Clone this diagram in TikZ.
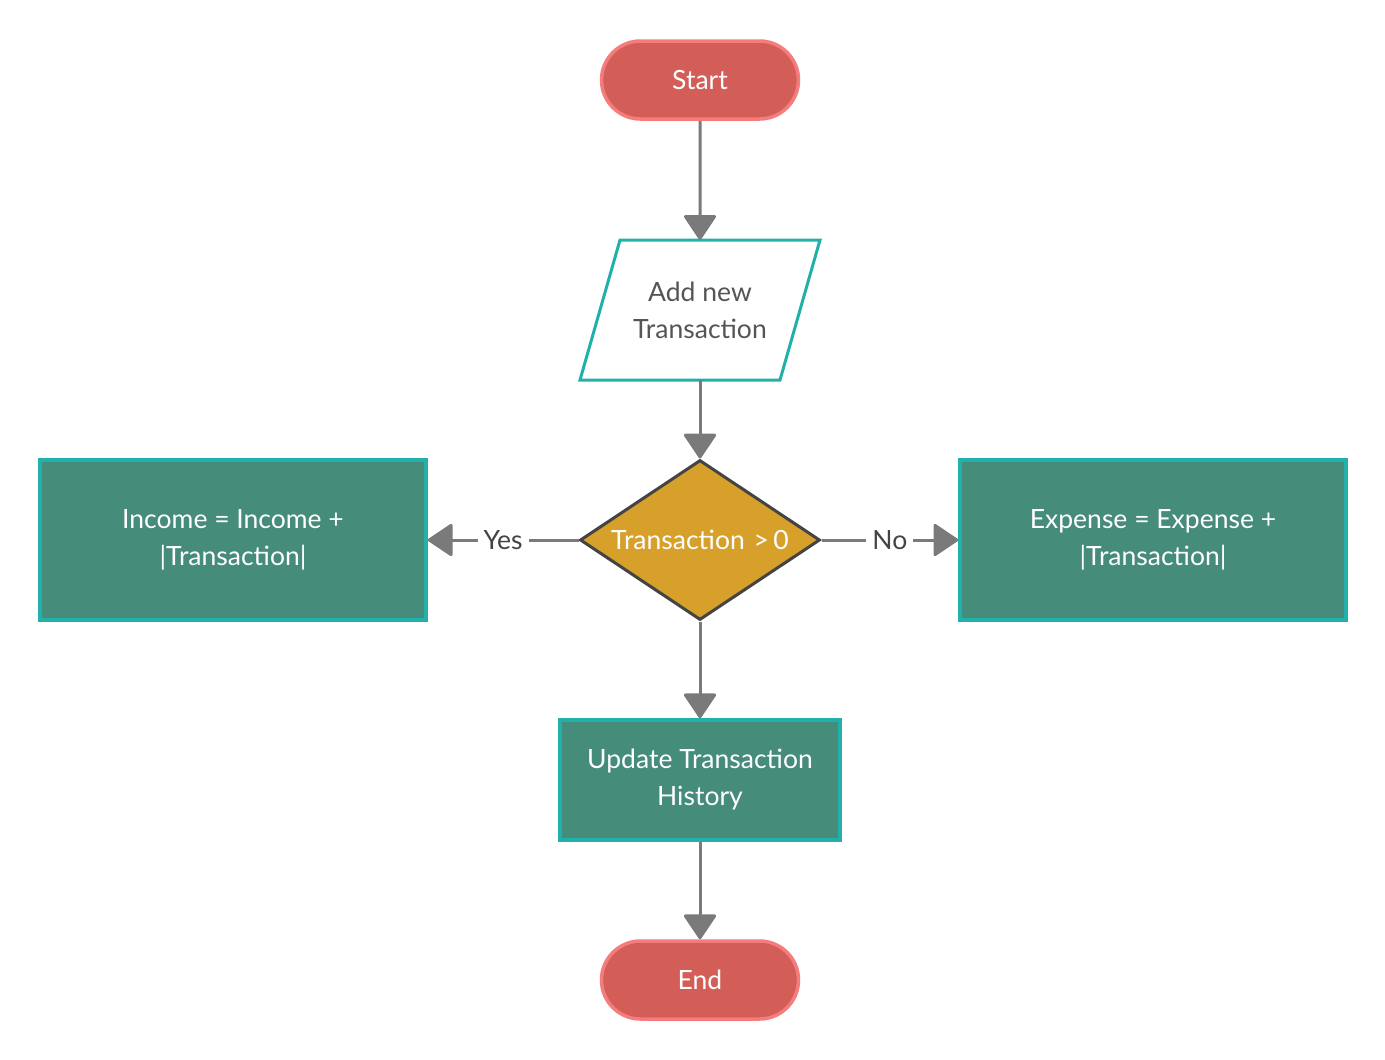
\documentclass[tikz,border=0pt]{standalone}
\usepackage{fontspec}
\setmainfont{Lato}
\usetikzlibrary{arrows.meta,shapes.geometric,shapes.misc}
\definecolor{termfill}{HTML}{D35E58}
\definecolor{termline}{HTML}{F47C7C}
\definecolor{teal}{HTML}{22B1AA}
\definecolor{procfill}{HTML}{458C7A}
\definecolor{decfill}{HTML}{D6A02A}
\definecolor{decline}{HTML}{444444}
\definecolor{conn}{HTML}{7A7A7A}
\definecolor{txtgray}{HTML}{555555}
\begin{document}
\begin{tikzpicture}[x=1pt,y=-1pt,
  every node/.style={font=\fontsize{26.5}{37}\selectfont, align=center, inner sep=0pt},
  terminal/.style={rounded rectangle, fill=termfill, draw=termline, line width=3.5pt,
    minimum width=197pt, minimum height=78pt, text=white},
  process/.style={rectangle, fill=procfill, draw=teal, line width=3.5pt, text=white},
  iobox/.style={fill=white, draw=teal, line width=3pt, line join=miter},
  decision/.style={diamond, fill=decfill, draw=decline, line width=3pt, text=white,
    minimum width=240pt, minimum height=160pt, aspect=1.5},
  link/.style={draw=conn, line width=3pt, -{Triangle[width=34pt,length=26pt,round]}},
  tag/.style={fill=white, text=decline, inner xsep=6pt, inner ysep=4pt}]
  \useasboundingbox (0,0) rectangle (1385,1060);

  % terminals
  \node[terminal] (start) at (700,80) {Start};
  \node[terminal] (end) at (700,980) {End};

  % input step: slanted parallelogram drawn around a plain text node
  \coordinate (ioA) at (620,240);
  \coordinate (ioB) at (820,240);
  \coordinate (ioC) at (780,380);
  \coordinate (ioD) at (580,380);
  \draw[iobox] (ioA) -- (ioB) -- (ioC) -- (ioD) -- cycle;
  \node[minimum width=200pt, minimum height=140pt, text=txtgray] (input) at (700,310) {Add new\\Transaction};

  % decision
  \node[decision] (check) at (700,540) {Transaction\,\,>\,0};

  % processing steps
  \node[process, minimum width=386pt, minimum height=160pt] (income) at (233,540) {Income = Income +\\|Transaction|};
  \node[process, minimum width=386pt, minimum height=160pt] (expense) at (1153,540) {Expense = Expense +\\|Transaction|};
  \node[process, minimum width=280pt, minimum height=120pt] (history) at (700,780) {Update Transaction\\History};

  % connectors
  \draw[link] (start) -- (input);
  \draw[link] (input) -- (check);
  \draw[link] (check.west) -- node[tag] {Yes} (income.east);
  \draw[link] (check.east) -- node[tag] {No} (expense.west);
  \draw[link] (check.south) -- (history.north);
  \draw[link] (history) -- (end);
\end{tikzpicture}
\end{document}
